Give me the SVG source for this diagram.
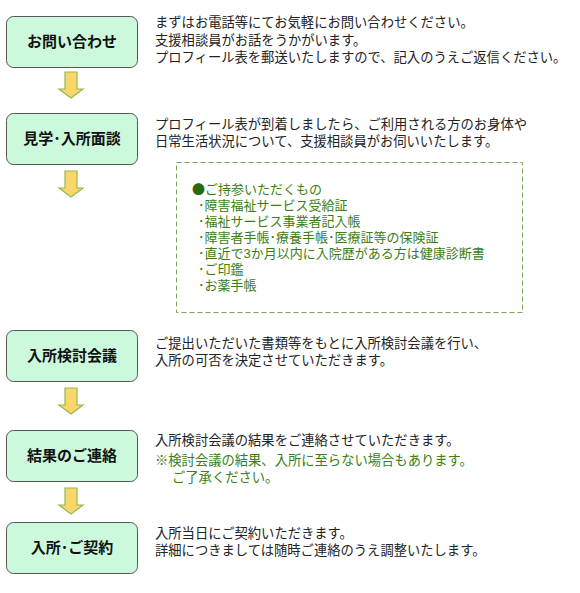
<svg xmlns="http://www.w3.org/2000/svg" width="580" height="593" viewBox="0 0 580 593">
<defs>
<style>
.box{fill:#ccf9dc;stroke:#555;stroke-width:1}
.lbl{font-family:"Noto Sans CJK JP","Noto Sans",sans-serif;font-size:15px;font-weight:bold;fill:#111;text-anchor:middle}
.t{font-family:"Liberation Sans","Noto Sans CJK JP",sans-serif;font-size:13.3px;fill:#222}
.g{font-family:"Liberation Sans","Noto Sans CJK JP",sans-serif;font-size:13px;fill:#3b7d16}
.dot{font-family:"Noto Sans CJK JP",sans-serif;fill:#2a6a12}
.gt{fill:#3b7d16}
.arr{fill:#fcd66a;stroke:#8cbd4b;stroke-width:1.2;stroke-linejoin:miter}
</style>
<polygon id="arrowShape" points="65,0 77,0 77,17 83,17 71,26 59,17 65,17 65,0" class="arr"/>
</defs>
<rect width="580" height="593" fill="#fff"/>

<g id="connectors">
<use href="#arrowShape" y="72"/>
<use href="#arrowShape" y="171"/>
<use href="#arrowShape" y="388"/>
<use href="#arrowShape" y="488"/>
</g>

<g id="node1">
<rect class="box" x="6.5" y="16.5" width="131" height="51" rx="7"/>
<text class="lbl" x="72" y="47">お問い合わせ</text>
<text class="t"><tspan x="155" y="27">まずはお電話等にてお気軽にお問い合わせください。</tspan><tspan x="155" y="45">支援相談員がお話をうかがいます。</tspan><tspan x="155" y="62">プロフィール表を郵送いたしますので、記入のうえご返信ください。</tspan></text>
</g>

<g id="node2">
<rect class="box" x="6.5" y="113.5" width="131" height="51" rx="7"/>
<text class="lbl" x="72" y="144">見学･入所面談</text>
<text class="t"><tspan x="155" y="129">プロフィール表が到着しましたら、ご利用される方のお身体や</tspan><tspan x="155" y="146">日常生活状況について、支援相談員がお伺いいたします。</tspan></text>
</g>

<g id="checklist">
<rect x="176.5" y="162.5" width="346" height="150" fill="none" stroke="#78a85a" stroke-width="1" stroke-dasharray="5,3"/>
<text class="g"><tspan class="dot" x="192" y="194">●</tspan><tspan>ご持参いただくもの</tspan><tspan x="198" y="210">･障害福祉サービス受給証</tspan><tspan x="198" y="226">･福祉サービス事業者記入帳</tspan><tspan x="198" y="242">･障害者手帳･療養手帳･医療証等の保険証</tspan><tspan x="198" y="258">･直近で3か月以内に入院歴がある方は健康診断書</tspan><tspan x="198" y="274">･ご印鑑</tspan><tspan x="198" y="290">･お薬手帳</tspan></text>
</g>

<g id="node3">
<rect class="box" x="6.5" y="330.5" width="131" height="51" rx="7"/>
<text class="lbl" x="72" y="361">入所検討会議</text>
<text class="t"><tspan x="155" y="348">ご提出いただいた書類等をもとに入所検討会議を行い、</tspan><tspan x="155" y="365">入所の可否を決定させていただきます。</tspan></text>
</g>

<g id="node4">
<rect class="box" x="6.5" y="430.5" width="131" height="51" rx="7"/>
<text class="lbl" x="72" y="461">結果のご連絡</text>
<text class="t"><tspan x="155" y="445">入所検討会議の結果をご連絡させていただきます。</tspan><tspan class="gt" x="155" y="465">※検討会議の結果、入所に至らない場合もあります。</tspan><tspan class="gt" x="172" y="482">ご了承ください。</tspan></text>
</g>

<g id="node5">
<rect class="box" x="6.5" y="522.5" width="131" height="51" rx="7"/>
<text class="lbl" x="72" y="553">入所･ご契約</text>
<text class="t"><tspan x="155" y="538">入所当日にご契約いただきます。</tspan><tspan x="155" y="555">詳細につきましては随時ご連絡のうえ調整いたします。</tspan></text>
</g>
</svg>
